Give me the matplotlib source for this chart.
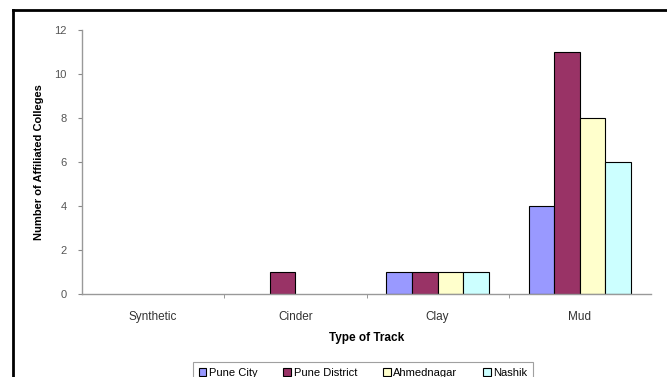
import matplotlib
matplotlib.use("Agg")
import matplotlib.pyplot as plt
import numpy as np
from matplotlib.lines import Line2D
from matplotlib.patches import Patch

plt.rcParams["font.family"] = ["Liberation Sans", "DejaVu Sans"]

categories = ["Synthetic", "Cinder", "Clay", "Mud"]
series_names = ["Pune City", "Pune District", "Ahmednagar", "Nashik"]
pune_city = [0, 0, 1, 4]
pune_district = [0, 1, 1, 11]
ahmednagar = [0, 0, 1, 8]
nashik = [0, 0, 1, 6]
values = [pune_city, pune_district, ahmednagar, nashik]
colors = ["#9999FF", "#993366", "#FFFFCC", "#CCFFFF"]

fig = plt.figure(figsize=(6.67, 3.77), dpi=100)
ax = fig.add_axes([82/667, 1-294/377, (651-82)/667, (294-30)/377])

x = np.arange(len(categories))
w = 0.18
for i, (vals, c, name) in enumerate(zip(values, colors, series_names)):
    offs = (i - 1.5) * w
    h = ax.bar(x + offs, vals, width=w, color=c, edgecolor="black", linewidth=0.8, label=name)
    for rect, v in zip(h, vals):
        if v == 0:
            rect.set_visible(False)

ax.set_xlim(-0.5, 3.5)
ax.set_ylim(0, 12)
ax.set_yticks(range(0, 13, 2))
ax.set_xticks(x)
ax.set_xticklabels(categories)
ax.set_xticks(np.arange(-0.5, 4.0, 1.0)[1:-1], minor=True)
ax.tick_params(axis="x", which="major", length=0, pad=12, labelsize=8.5, labelcolor="#333333")
ax.tick_params(axis="x", which="minor", length=3, color="#888888", direction="out")
ax.tick_params(axis="y", length=3, color="#888888", labelsize=8, labelcolor="#555555", pad=8)
for s in ["top", "right"]:
    ax.spines[s].set_visible(False)
for s in ["left", "bottom"]:
    ax.spines[s].set_color("#999999")
    ax.spines[s].set_linewidth(1.0)

ax.set_xlabel("Type of Track", fontsize=8.5, fontweight="bold", labelpad=7)
ax.set_ylabel("Number of Affiliated Colleges", fontsize=8, fontweight="bold", labelpad=7)

handles = [Patch(facecolor=c, edgecolor="black", linewidth=0.8) for c in colors]
leg = fig.legend(handles=handles, labels=series_names, loc="upper left",
                 bbox_to_anchor=(193/667, 1-362/377), ncol=4, fontsize=8,
                 frameon=True, fancybox=False, handlelength=0.7, handleheight=0.7,
                 handletextpad=0.25, columnspacing=2.3, borderaxespad=0, borderpad=0.5)
leg.get_frame().set_edgecolor("#888888")
leg.get_frame().set_linewidth(0.8)

fig.add_artist(Line2D([13/667, 13/667], [0, 1-10/377], transform=fig.transFigure, color="black", linewidth=2))
fig.add_artist(Line2D([13/667, 1], [1-10/377, 1-10/377], transform=fig.transFigure, color="black", linewidth=2))

fig.savefig("out.png", dpi=100)
